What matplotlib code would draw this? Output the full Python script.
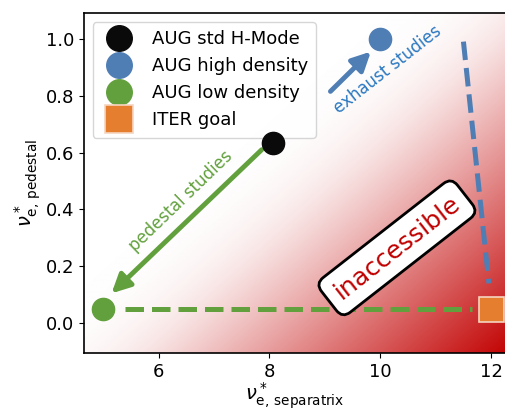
import numpy as np
import matplotlib
matplotlib.use("Agg")
import matplotlib.pyplot as plt
from matplotlib.colors import LinearSegmentedColormap

# operating points (nu*_sep, nu*_ped)
labels = ["AUG std H-Mode", "AUG high density", "AUG low density", "ITER goal"]
nu_sep = [8.07, 10.0, 5.0, 12.0]
nu_ped = [0.635, 1.0, 0.05, 0.05]
colors = ["#0a0a0a", "#4f7eb5", "#62a03d", "#e57f2f"]
markers = ["o", "o", "o", "s"]

# dashed limits
green_dash_x = [5.4, 11.65]
green_dash_y = [0.05, 0.05]
blue_dash_x = [11.5, 11.96]
blue_dash_y = [0.99, 0.14]

# arrows (start -> end)
ped_arrow = [(7.86, 0.61), (5.15, 0.105)]
exh_arrow = [(9.1, 0.815), (9.83, 0.955)]

xlim = (4.65, 12.25)
ylim = (-0.105, 1.09)

fig = plt.figure(figsize=(5.05, 4.12), dpi=100)
ax = fig.add_axes([0.166, 0.143, 0.834, 0.825])

# background gradient: white top-left -> red bottom-right
u = np.linspace(0, 1, 400)
v = np.linspace(0, 1, 400)
U, V = np.meshgrid(u, v)
S = 1.05 * U - 0.95 * V - 0.07
k = 12.0
T = np.clip(np.log1p(np.exp(k * S)) / k, 0, 1)
cmap = LinearSegmentedColormap.from_list("wr", ["#ffffff", "#c20000"])
ax.imshow(T, origin="lower", extent=[xlim[0], xlim[1], ylim[0], ylim[1]],
          aspect="auto", cmap=cmap, vmin=0, vmax=1, zorder=0)

ax.plot(green_dash_x, green_dash_y, ls="--", color=colors[2], lw=3.6, zorder=2)
ax.plot(blue_dash_x, blue_dash_y, ls="--", color=colors[1], lw=3.6, zorder=2)

ax.annotate("", xy=ped_arrow[1], xytext=ped_arrow[0],
            arrowprops=dict(arrowstyle="-|>", color=colors[2], lw=3.5,
                            mutation_scale=28, shrinkA=0, shrinkB=0), zorder=3)
ax.annotate("", xy=exh_arrow[1], xytext=exh_arrow[0],
            arrowprops=dict(arrowstyle="-|>", color=colors[1], lw=3.5,
                            mutation_scale=28, shrinkA=0, shrinkB=0), zorder=3)

for lab, x, y, c, m in zip(labels, nu_sep, nu_ped, colors, markers):
    if m == "s":
        ax.plot(x, y, m, color=c, ms=18, mec="#f5d5c0", mew=1.2, label=lab,
                zorder=6, clip_on=False)
    else:
        ax.plot(x, y, m, color=c, ms=16, mec=c, label=lab, zorder=6)

ax.text(6.4, 0.43, "pedestal studies", color=colors[2], fontsize=12,
        rotation=44, ha="center", va="center", rotation_mode="anchor")
ax.text(10.14, 0.89, "exhaust studies", color="#2a78c0", fontsize=12,
        rotation=38, ha="center", va="center", rotation_mode="anchor")
ax.text(10.3, 0.265, "inaccessible", color="#c00000", fontsize=18,
        rotation=38, ha="center", va="center", rotation_mode="anchor",
        zorder=5,
        bbox=dict(boxstyle="round,pad=0.4", fc="white", ec="black", lw=2))

ax.set_xlim(xlim)
ax.set_ylim(ylim)
ax.set_xticks([6, 8, 10, 12])
ax.set_yticks([0.0, 0.2, 0.4, 0.6, 0.8, 1.0])
ax.tick_params(labelsize=13)
ax.spines["right"].set_visible(False)
for s in ["left", "bottom", "top"]:
    ax.spines[s].set_linewidth(1.2)

ax.set_xlabel(r"$\nu^*_{\rm e,\, separatrix}$", fontsize=14, labelpad=0)
ax.set_ylabel(r"$\nu^*_{\rm e,\, pedestal}$", fontsize=14, labelpad=2)

leg = ax.legend(loc="upper left", fontsize=13, markerscale=1.15,
                handletextpad=0.8, borderpad=0.45, labelspacing=0.5)
leg.set_zorder(5)

fig.savefig("out.png", dpi=100)
